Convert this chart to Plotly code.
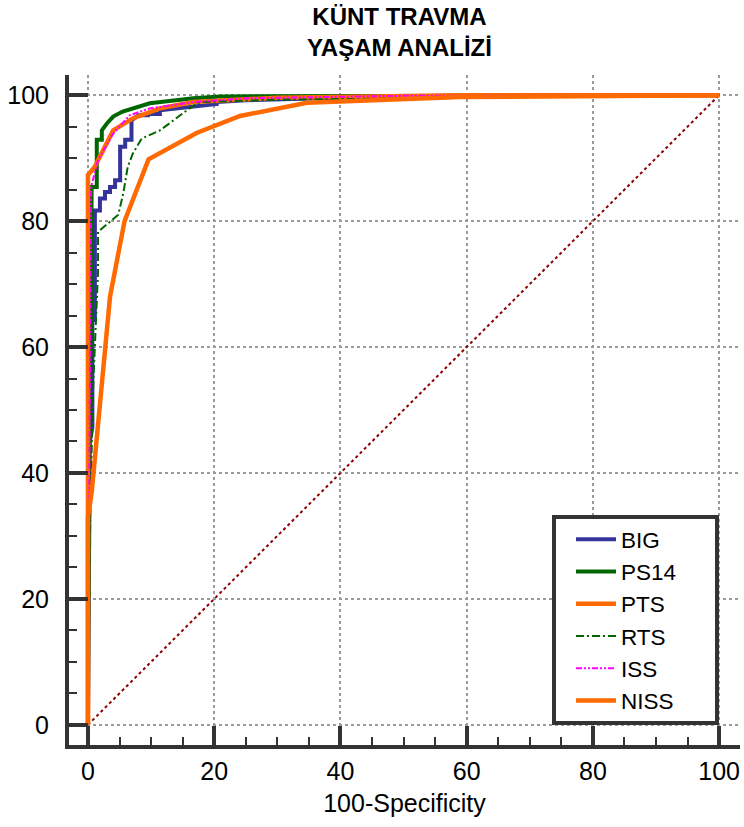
import plotly.graph_objects as go

# ROC curve data (x = 100-Specificity, y = Sensitivity)
big_x = [0, 0.3, 0.7, 0.7, 1.1, 1.1, 1.9, 1.9, 2.7, 2.7, 3.5, 3.5, 4.3, 4.3, 5.1, 5.1, 5.9, 5.9, 6.9, 6.9, 8.0, 9.5, 9.5, 11.4, 11.4, 20.4, 20.4, 25, 40, 60, 100]
big_y = [0, 45, 47.3, 64.3, 64.3, 81.7, 81.7, 83.6, 83.6, 84.6, 84.6, 85.4, 85.4, 86.5, 86.5, 91.8, 91.8, 92.9, 92.9, 96.0, 96.8, 96.8, 97.0, 97.0, 97.6, 98.6, 98.9, 99.2, 99.6, 100, 100]

ps14_x = [0, 0.2, 0.5, 0.58, 0.58, 1.4, 1.4, 2.2, 2.2, 3.0, 4.0, 5.5, 6.1, 9.8, 16.7, 21, 100]
ps14_y = [0, 45, 65, 78, 85.4, 85.4, 92.9, 92.9, 94.4, 95.5, 96.6, 97.4, 97.6, 98.7, 99.5, 99.8, 100]

pts_x = [0, 0, 1.06, 4.0, 7.1, 11.4, 16.7, 30, 60, 100]
pts_y = [0, 87.3, 88.6, 94.4, 96.3, 97.9, 98.9, 99.6, 100, 100]

rts_x = [0, 0.4, 0.85, 1.6, 1.6, 4.8, 5.6, 6.3, 7.1, 8.5, 11.4, 16.1, 17.7, 30, 55, 65, 100]
rts_y = [0, 36, 54.3, 72, 78.3, 81, 84.4, 88.6, 90.7, 93.1, 94.4, 97.9, 98.9, 99.3, 99.5, 99.7, 100]

iss_x = [0, 0.3, 0.5, 0.5, 1.6, 4.0, 6.6, 9.8, 16.7, 25, 50, 100]
iss_y = [0, 50, 80, 85.4, 89.7, 93.9, 96.8, 97.9, 98.9, 99.5, 99.9, 100]

niss_x = [0, 0, 0.6, 3.5, 5.8, 9.6, 17.2, 24.1, 34.7, 59, 100]
niss_y = [0, 33, 37, 68, 80, 89.8, 94.0, 96.7, 98.8, 99.7, 100]

diag = [0, 100]

x_ticks = [0, 20, 40, 60, 80, 100]
y_ticks = [0, 20, 40, 60, 80, 100]

FONT = "Liberation Sans, Arial, sans-serif"

fig = go.Figure()
fig.add_trace(go.Scatter(x=diag, y=diag, mode="lines", showlegend=False,
                         line=dict(color="#8B0000", width=2, dash="dot")))
fig.add_trace(go.Scatter(x=big_x, y=big_y, mode="lines", name="BIG",
                         line=dict(color="#333399", width=4)))
fig.add_trace(go.Scatter(x=ps14_x, y=ps14_y, mode="lines", name="PS14",
                         line=dict(color="#006600", width=4)))
fig.add_trace(go.Scatter(x=pts_x, y=pts_y, mode="lines", name="PTS",
                         line=dict(color="#FF6A00", width=4.5)))
fig.add_trace(go.Scatter(x=rts_x, y=rts_y, mode="lines", name="RTS",
                         line=dict(color="#006600", width=2, dash="8px,3px,2px,3px")))
fig.add_trace(go.Scatter(x=iss_x, y=iss_y, mode="lines", name="ISS",
                         line=dict(color="#FF00FF", width=2, dash="6px,2px,2px,2px,2px,2px")))
fig.add_trace(go.Scatter(x=niss_x, y=niss_y, mode="lines", name="NISS",
                         line=dict(color="#FF6A00", width=4.5)))

axis_common = dict(
    showline=True, linewidth=4, linecolor="#333333",
    ticks="inside", ticklen=19, tickwidth=4, tickcolor="#333333",
    showgrid=True, gridcolor="#9a9a9a", gridwidth=1.5, griddash="dot",
    zeroline=False,
    tickfont=dict(family=FONT, size=25, color="#000000"),
    minor=dict(ticks="inside", ticklen=8, tickwidth=2, tickcolor="#333333",
               dtick=5, showgrid=False),
)

fig.update_xaxes(range=[-3.0, 103.3], tickvals=x_ticks,
                 ticktext=[str(v) for v in x_ticks],
                 title=dict(text="100-Specificity", font=dict(family=FONT, size=25, color="#000000"), standoff=11),
                 ticklabelstandoff=1,
                 **axis_common)
fig.update_yaxes(range=[-3.2, 103.2], tickvals=y_ticks,
                 ticktext=[str(v) for v in y_ticks],
                 ticklabelstandoff=11,
                 **axis_common)

# legend frame (white box with thick dark border)
box_x0, box_x1 = (554 - 69) / 671, (717 - 69) / 671
box_y0, box_y1 = (745 - 723) / 670, (745 - 517) / 670

fig.update_layout(
    width=744, height=827,
    margin=dict(l=69, r=4, t=75, b=82),
    plot_bgcolor="white", paper_bgcolor="white",
    shapes=[dict(type="rect", xref="paper", yref="paper",
                 x0=box_x0, x1=box_x1, y0=box_y0, y1=box_y1,
                 line=dict(color="#333333", width=4), fillcolor="white",
                 layer="above")],
    annotations=[dict(text="<b>KÜNT TRAVMA<br>YAŞAM ANALİZİ</b>",
                      font=dict(family=FONT, size=24, color="#000000"),
                      xref="paper", yref="paper", x=0.493, y=1.11,
                      xanchor="center", yanchor="top", showarrow=False)],
    legend=dict(x=(571 - 69) / 671, y=(745 - 518) / 670, xanchor="left", yanchor="top",
                borderwidth=0, bgcolor="rgba(0,0,0,0)",
                font=dict(family=FONT, size=22.5, color="#000000"),
                tracegroupgap=0, itemwidth=40),
)

fig.write_html("out.html")
